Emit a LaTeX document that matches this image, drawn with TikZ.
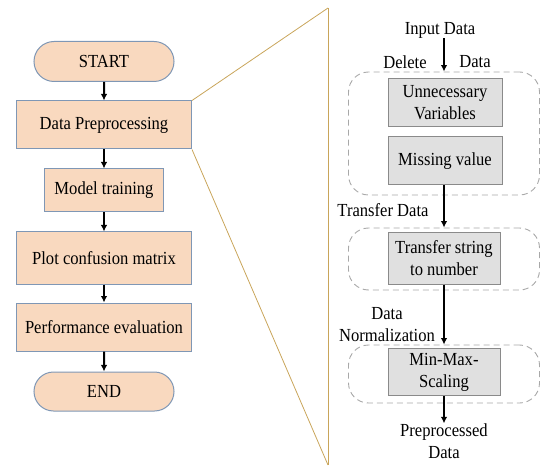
\documentclass[tikz,border=0pt]{standalone}
\usepackage{fontspec}
\setmainfont[FakeStretch=0.9]{Liberation Serif}
\usetikzlibrary{shapes.misc,arrows.meta}
\definecolor{tanfill}{HTML}{F9D9BF}
\definecolor{tanline}{HTML}{7F97B5}
\definecolor{grayfill}{HTML}{E0E0E0}
\definecolor{grayline}{HTML}{8A8A8A}
\definecolor{dashline}{HTML}{A8A8A8}
\definecolor{goldline}{HTML}{C9A55A}
\begin{document}
\begin{tikzpicture}[x=1bp,y=-1bp,
  every node/.style={font=\fontsize{18.5}{22}\selectfont, inner sep=0pt, align=center},
  procbox/.style={draw=tanline, fill=tanfill, line width=1bp},
  termbox/.style={draw=tanline, fill=tanfill, line width=1bp, rounded rectangle},
  graybox/.style={draw=grayline, fill=grayfill, line width=1bp},
  groupbox/.style={draw=dashline, dashed, dash pattern=on 6bp off 4bp, rounded corners=20bp, line width=0.9bp},
  flow/.style={-{Latex[length=6.5bp,width=6.5bp]}, line width=2bp, black},
  zoomline/.style={draw=goldline, line width=0.8bp}
]
\useasboundingbox (0,0) rectangle (542,468);

% left flowchart
\node[termbox, minimum width=140bp, minimum height=40bp] (start) at (104,61.5) {START};
\node[procbox, minimum width=175bp, minimum height=48bp] (prep) at (104,125) {Data Preprocessing};
\node[procbox, minimum width=119bp, minimum height=43bp] (train) at (104,190.5) {Model training};
\node[procbox, minimum width=175bp, minimum height=52bp] (plot) at (104,258) {Plot confusion matrix};
\node[procbox, minimum width=175bp, minimum height=48bp] (perf) at (104,327) {Performance evaluation};
\node[termbox, minimum width=140bp, minimum height=39bp] (end) at (104,391.5) {END};

\draw[flow] (start) -- (prep);
\draw[flow] (prep) -- (train);
\draw[flow] (train) -- (plot);
\draw[flow] (plot) -- (perf);
\draw[flow] (perf) -- (end);

% zoom lines
\coordinate (ztop) at (328,8);
\coordinate (zbot) at (328,465);
\draw[zoomline] (prep.north east) -- (ztop);
\draw[zoomline] (prep.south east) -- (zbot);
\draw[zoomline] (ztop) -- (zbot);

% right detail
\node (input) at (440,30) {Input Data};
\node (dellab) at (405,62) {Delete};
\node (datalab) at (475,62) {Data};

\node[groupbox, minimum width=191bp, minimum height=123bp] (g1) at (444,133.5) {};
\node[graybox, minimum width=114bp, minimum height=48bp] (unnec) at (445,103) {Unnecessary\\Variables};
\node[graybox, minimum width=114bp, minimum height=48bp] (miss) at (445,161) {Missing value};

\node (translab) at (383,210) {Transfer Data};
\node[groupbox, minimum width=191bp, minimum height=62bp] (g2) at (444,259) {};
\node[graybox, minimum width=112bp, minimum height=51bp] (trans) at (444,258.5) {Transfer string\\to number};

\node (normlab) at (387,324.5) {Data\\Normalization};
\node[groupbox, minimum width=191bp, minimum height=58bp] (g3) at (444,374) {};
\node[graybox, minimum width=112bp, minimum height=47bp] (minmax) at (444,372) {Min-Max-\\Scaling};

\node (out) at (444,441) {Preprocessed\\Data};

\draw[flow] (input.south -| g1.north) -- (g1.north);
\draw[flow] (miss.south -| g2.north) -- (g2.north);
\draw[flow] (trans.south -| g3.north) -- (g3.north);
\draw[flow] (minmax.south -| out.north) -- (out.north);
\end{tikzpicture}
\end{document}
